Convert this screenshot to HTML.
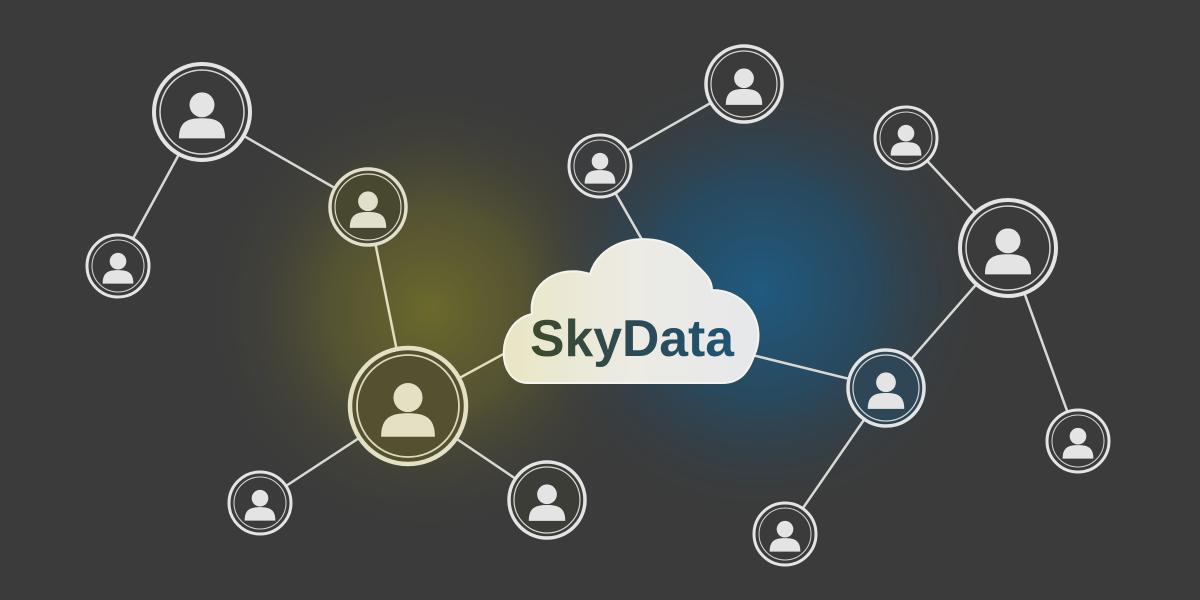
<!DOCTYPE html>
<html><head><style>
html,body{margin:0;padding:0;width:1200px;height:600px;overflow:hidden;background:#3b3b3b}
</style></head><body>
<svg width="1200" height="600" viewBox="0 0 1200 600" xmlns="http://www.w3.org/2000/svg">
<defs>
<radialGradient id="gy" cx="430" cy="310" r="230" gradientUnits="userSpaceOnUse">
<stop offset="0" stop-color="#6b6a2c" stop-opacity="1"/>
<stop offset="0.45" stop-color="#5a5830" stop-opacity="0.8"/>
<stop offset="1" stop-color="#3b3b3b" stop-opacity="0"/>
</radialGradient>
<radialGradient id="gb" cx="760" cy="290" r="240" gradientUnits="userSpaceOnUse">
<stop offset="0" stop-color="#1f5a80" stop-opacity="1"/>
<stop offset="0.45" stop-color="#244d68" stop-opacity="0.8"/>
<stop offset="1" stop-color="#3b3b3b" stop-opacity="0"/>
</radialGradient>
<linearGradient id="tg" x1="530" x2="740" gradientUnits="userSpaceOnUse">
<stop offset="0" stop-color="#3f4a2c"/><stop offset="0.5" stop-color="#2c4a55"/><stop offset="1" stop-color="#1f5575"/>
</linearGradient>
<linearGradient id="cg" x1="503" x2="758" gradientUnits="userSpaceOnUse">
<stop offset="0" stop-color="#e9e6c4"/><stop offset="0.5" stop-color="#ecebe4"/><stop offset="1" stop-color="#e6e8ea"/>
</linearGradient>
<g id="p"><circle cx="0" cy="-0.15" r="0.26"/><path d="M-0.48,0.55 C-0.48,0.2 -0.3,0.13 0,0.13 C0.3,0.13 0.48,0.2 0.48,0.55 Z"/></g>
</defs>
<rect width="1200" height="600" fill="#3b3b3b"/>
<rect width="1200" height="600" fill="url(#gy)"/>
<rect width="1200" height="600" fill="url(#gb)"/>
<g stroke="#d8d8d4" stroke-width="2.5">
<line x1="202" y1="112" x2="118" y2="266"/>
<line x1="202" y1="112" x2="368" y2="207"/>
<line x1="368" y1="207" x2="408" y2="406" stroke="#e2dfc0"/>
<line x1="408" y1="406" x2="260" y2="503"/>
<line x1="408" y1="406" x2="547" y2="500"/>
<line x1="408" y1="406" x2="520" y2="345" stroke="#e2dfc0"/>
<line x1="600" y1="166" x2="744" y2="84"/>
<line x1="600" y1="166" x2="645" y2="245"/>
<line x1="906" y1="138" x2="1008" y2="248"/>
<line x1="1008" y1="248" x2="886" y2="388"/>
<line x1="1008" y1="248" x2="1078" y2="441"/>
<line x1="886" y1="388" x2="785" y2="534"/>
<line x1="886" y1="388" x2="740" y2="352"/>
</g>
<path d="M528,383 C495,383 495,322 532,314 C528,282 560,264 590,274 C602,234 662,228 690,258 C700,270 712,276 712,290 C748,290 768,325 754,356 C747,376 737,383 722,383 Z" fill="url(#cg)" stroke="#f4f4ee" stroke-width="2"/>
<text x="632" y="356" text-anchor="middle" font-family="Liberation Sans, sans-serif" font-weight="bold" font-size="52" textLength="204" lengthAdjust="spacingAndGlyphs" fill="url(#tg)">SkyData</text>
<g>
<g transform="translate(202,112)"><circle r="48" fill="#3b3b3b" stroke="#e4e4e4" stroke-width="4"/><circle r="42" fill="none" stroke="#d8d8d8" stroke-width="1.5"/><use href="#p" transform="scale(48)" fill="#e4e4e4"/></g>
<g transform="translate(368,207)"><circle r="38" fill="#48472f" stroke="#e2e0cc" stroke-width="3.5"/><circle r="33" fill="none" stroke="#dcdac8" stroke-width="1.2"/><use href="#p" transform="scale(38)" fill="#e2e0cc"/></g>
<g transform="translate(118,266)"><circle r="31" fill="#3b3b3b" stroke="#e4e4e4" stroke-width="3"/><circle r="26" fill="none" stroke="#d8d8d8" stroke-width="1"/><use href="#p" transform="scale(32)" fill="#e4e4e4"/></g>
<g transform="translate(408,406)"><circle r="58" fill="#53512f" stroke="#e4e0c4" stroke-width="4.5"/><circle r="51" fill="none" stroke="#dcd8bc" stroke-width="1.8"/><use href="#p" transform="scale(56)" fill="#e4e0c4"/></g>
<g transform="translate(260,503)"><circle r="31" fill="#3b3b3b" stroke="#e4e4e4" stroke-width="3"/><circle r="26" fill="none" stroke="#d8d8d8" stroke-width="1"/><use href="#p" transform="scale(32)" fill="#e4e4e4"/></g>
<g transform="translate(547,500)"><circle r="38" fill="#3d3d37" stroke="#e4e4e4" stroke-width="3.5"/><circle r="33" fill="none" stroke="#d8d8d8" stroke-width="1.2"/><use href="#p" transform="scale(38)" fill="#e4e4e4"/></g>
<g transform="translate(600,166)"><circle r="31" fill="#3b3d3e" stroke="#e4e4e4" stroke-width="3"/><circle r="26" fill="none" stroke="#d8d8d8" stroke-width="1"/><use href="#p" transform="scale(32)" fill="#e4e4e4"/></g>
<g transform="translate(744,84)"><circle r="38" fill="#3b3b3b" stroke="#e4e4e4" stroke-width="3.5"/><circle r="33" fill="none" stroke="#d8d8d8" stroke-width="1.2"/><use href="#p" transform="scale(38)" fill="#e4e4e4"/></g>
<g transform="translate(906,138)"><circle r="31" fill="#3b3b3b" stroke="#e4e4e4" stroke-width="3"/><circle r="26" fill="none" stroke="#d8d8d8" stroke-width="1"/><use href="#p" transform="scale(32)" fill="#e4e4e4"/></g>
<g transform="translate(1008,248)"><circle r="48" fill="#3b3b3b" stroke="#e4e4e4" stroke-width="4"/><circle r="42" fill="none" stroke="#d8d8d8" stroke-width="1.5"/><use href="#p" transform="scale(48)" fill="#e4e4e4"/></g>
<g transform="translate(886,388)"><circle r="38" fill="#2f4656" stroke="#e4e4e4" stroke-width="3.5"/><circle r="33" fill="none" stroke="#d8d8d8" stroke-width="1.2"/><use href="#p" transform="scale(38)" fill="#e4e4e4"/></g>
<g transform="translate(1078,441)"><circle r="31" fill="#3b3b3b" stroke="#e4e4e4" stroke-width="3"/><circle r="26" fill="none" stroke="#d8d8d8" stroke-width="1"/><use href="#p" transform="scale(32)" fill="#e4e4e4"/></g>
<g transform="translate(785,534)"><circle r="31" fill="#3b3b3b" stroke="#e4e4e4" stroke-width="3"/><circle r="26" fill="none" stroke="#d8d8d8" stroke-width="1"/><use href="#p" transform="scale(32)" fill="#e4e4e4"/></g>
</g>
</svg>
</body></html>
